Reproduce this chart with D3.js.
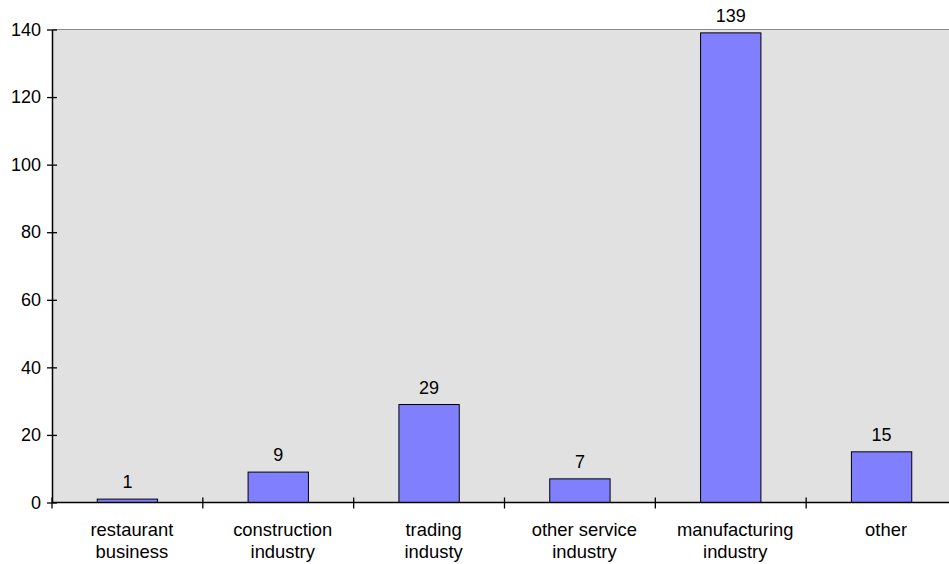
<!DOCTYPE html>
<html><head><meta charset="utf-8">
<script src="https://cdn.jsdelivr.net/npm/d3@7"></script>
<style>body{margin:0;background:#fff;} text{font-family:"Liberation Sans",Arial,sans-serif;}</style>
</head><body>
<svg id="c" width="949" height="564"></svg>
<script>
const categories = [["restaurant","business"],["construction","industry"],["trading","industy"],["other service","industry"],["manufacturing","industry"],["other"]];
const values = [1, 9, 29, 7, 139, 15];
const yTicks = [0, 20, 40, 60, 80, 100, 120, 140];

(function(){
const svg = d3.select("#c");
const pl = 52, pr = 957, pt = 29.5, pb = 502.5;
const x = d3.scaleBand().domain(d3.range(categories.length)).range([pl, pr]).paddingInner(0).paddingOuter(0);
const y = d3.scaleLinear().domain([0, 140]).range([pb, pt]);
const fs = 18;

svg.append("rect").attr("x", pl).attr("y", pt).attr("width", pr - pl).attr("height", pb - pt).attr("fill", "#e1e1e1");
svg.append("line").attr("x1", pl).attr("x2", pr).attr("y1", pt).attr("y2", pt).attr("stroke", "#8a8a8a").attr("stroke-width", 1.2);

const bw = x.bandwidth() * 0.4;
svg.selectAll("rect.bar").data(values).enter().append("rect").attr("class","bar")
  .attr("x", (d,i) => x(i) + x.bandwidth()/2 - bw/2)
  .attr("y", d => y(d))
  .attr("width", bw)
  .attr("height", d => pb - y(d))
  .attr("fill", "#8080ff").attr("stroke", "#000").attr("stroke-width", 1);

svg.selectAll("text.val").data(values).enter().append("text").attr("class","val")
  .attr("x", (d,i) => x(i) + x.bandwidth()/2)
  .attr("y", d => y(d) - 11)
  .attr("text-anchor", "middle").attr("font-size", fs).attr("fill", "#000")
  .text(d => d);

const ya = svg.append("g").attr("transform", `translate(${pl},0)`)
  .call(d3.axisLeft(y).tickValues(yTicks).tickSize(5).tickSizeOuter(0).tickFormat(d3.format("d")));
ya.select(".domain").attr("stroke", "#000").attr("stroke-width", 1.5);
ya.selectAll(".tick line").attr("x2", -5).attr("x1", 5).attr("stroke", "#000").attr("stroke-width", 1.3);
ya.selectAll(".tick text").attr("x", -11).attr("font-size", fs).attr("fill", "#000").attr("font-family", "Liberation Sans, Arial, sans-serif");

const tickPos = d3.range(categories.length + 1).map(i => pl + i * x.step());
svg.append("line").attr("x1", pl).attr("x2", pr).attr("y1", pb).attr("y2", pb).attr("stroke", "#000").attr("stroke-width", 1.5);
svg.selectAll("line.xt").data(tickPos).enter().append("line").attr("class","xt")
  .attr("x1", d => d).attr("x2", d => d).attr("y1", pb - 5).attr("y2", pb + 6)
  .attr("stroke", "#000").attr("stroke-width", 1.3);

const lab = svg.selectAll("text.cat").data(categories).enter().append("text").attr("class","cat")
  .attr("text-anchor", "middle").attr("font-size", 18.4).attr("fill", "#000");
lab.each(function(d, i) {
  const t = d3.select(this);
  d.forEach((line, j) => {
    t.append("tspan").attr("x", x(i) + x.bandwidth()/2 + 4.5).attr("y", 536 + j * 22).text(line);
  });
});
})();
</script>
</body></html>
